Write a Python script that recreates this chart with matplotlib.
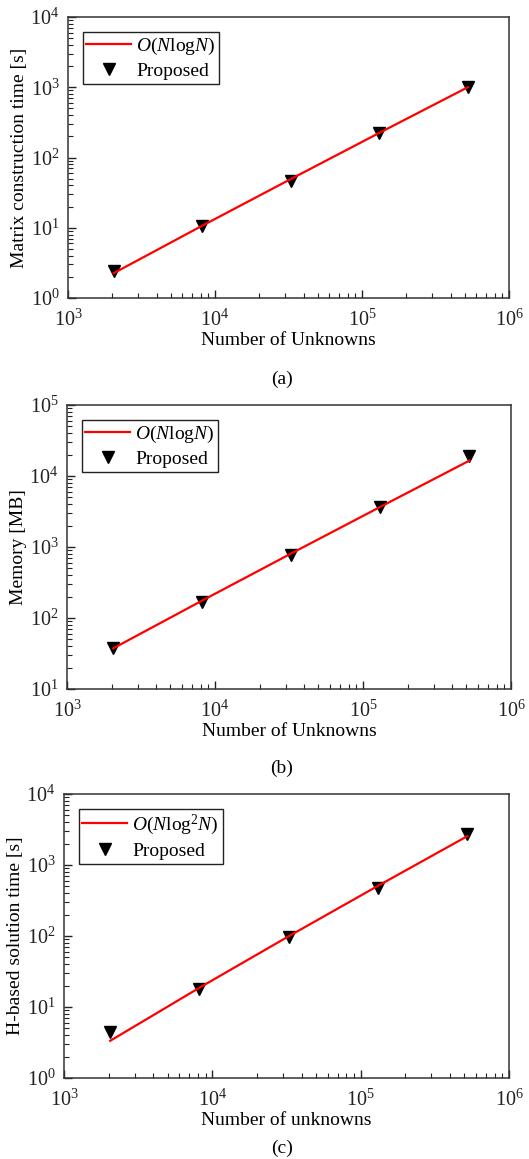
import matplotlib
matplotlib.use("Agg")
import matplotlib.pyplot as plt
from matplotlib.ticker import LogLocator, NullFormatter

plt.rcParams['font.family'] = ['Liberation Serif', 'DejaVu Serif']
plt.rcParams['mathtext.fontset'] = 'custom'
plt.rcParams['mathtext.rm'] = 'Liberation Serif'
plt.rcParams['mathtext.it'] = 'Liberation Serif:italic'
plt.rcParams['mathtext.bf'] = 'Liberation Serif:bold'

# Data
unknowns = [2048, 8192, 32768, 131072, 524288]

matrix_time = [2.4, 10.5, 47, 225, 1000]
matrix_fit = [2.26, 10.7, 49.3, 224, 1000]

memory = [38, 170, 780, 3700, 19000]
memory_fit = [37.3, 176, 812, 3680, 16500]

solve_time = [4.5, 18, 97, 480, 2700]
solve_fit = [3.34, 18.7, 99.4, 510, 2550]

panels = [
    dict(y=matrix_time, fit=matrix_fit, fitlabel=r'$O(N\mathrm{log}N)$',
         ylabel='Matrix construction time [s]', xlabel='Number of Unknowns',
         ylim=(1, 1e4), caption='(a)', box=(68, 17, 509, 298), cap_y=379),
    dict(y=memory, fit=memory_fit, fitlabel=r'$O(N\mathrm{log}N)$',
         ylabel='Memory [MB]', xlabel='Number of Unknowns',
         ylim=(10, 1e5), caption='(b)', box=(67, 405, 511, 689), cap_y=768),
    dict(y=solve_time, fit=solve_fit, fitlabel=r'$O(N\mathrm{log}^2N)$',
         ylabel='H-based solution time [s]', xlabel='Number of unknowns',
         ylim=(1, 1e4), caption='(c)', box=(64, 794, 509, 1078), cap_y=1148),
]

W, H = 529, 1159
fig = plt.figure(figsize=(W / 100, H / 100), dpi=100)

for p in panels:
    l, t, r, b = p['box']
    ax = fig.add_axes([l / W, 1 - b / H, (r - l) / W, (b - t) / H])
    ax.plot(unknowns, p['fit'], color='red', lw=1.6, label=p['fitlabel'], zorder=3)
    ax.plot(unknowns, p['y'], linestyle='none', marker='v', color='black',
            markersize=9, label='Proposed', zorder=2)
    ax.set_xscale('log')
    ax.set_yscale('log')
    ax.set_xlim(1e3, 1e6)
    ax.set_ylim(*p['ylim'])
    ax.xaxis.set_minor_locator(LogLocator(base=10, subs=range(2, 10), numticks=20))
    ax.yaxis.set_minor_locator(LogLocator(base=10, subs=range(2, 10), numticks=20))
    ax.xaxis.set_minor_formatter(NullFormatter())
    ax.yaxis.set_minor_formatter(NullFormatter())
    ax.tick_params(which='both', direction='in', top=False, right=False,
                   labelsize=14.5, colors='#222222', labelcolor='#222222')
    ax.tick_params(which='major', length=6, width=1)
    ax.tick_params(which='minor', length=3.5, width=0.8)
    ax.tick_params(axis='x', which='major', pad=8)
    ax.tick_params(axis='y', which='major', pad=6)
    for s in ax.spines.values():
        s.set_linewidth(1.1)
        s.set_color('#333333')
    ax.set_xlabel(p['xlabel'], fontsize=14, labelpad=1)
    ax.set_ylabel(p['ylabel'], fontsize=14, labelpad=2)
    leg = ax.legend(loc='upper left', fontsize=14, frameon=True, fancybox=False,
                    edgecolor='#222222', framealpha=1, handlelength=2.3,
                    borderpad=0.2, labelspacing=0.3, handletextpad=0.25,
                    borderaxespad=0.75)
    leg.get_frame().set_linewidth(1.0)
    fig.text(282 / W, 1 - p['cap_y'] / H,
             p['caption'], ha='center', va='center', fontsize=14)

fig.savefig('out.png', dpi=100)
